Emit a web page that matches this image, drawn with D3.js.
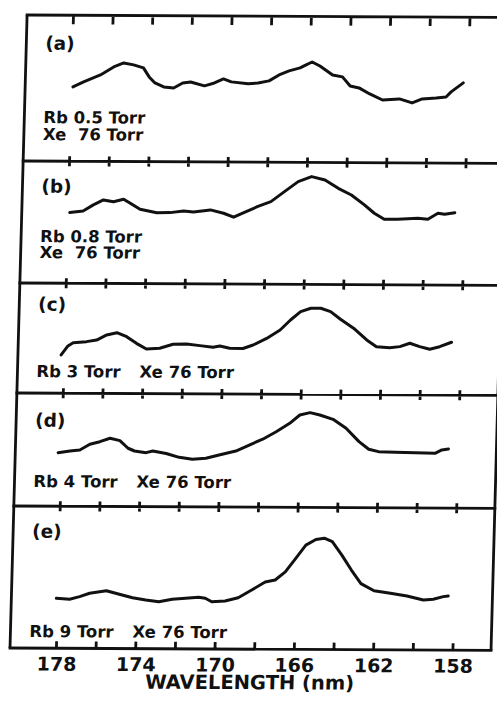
<!DOCTYPE html>
<html>
<head>
<meta charset="utf-8">
<script src="https://cdn.jsdelivr.net/npm/d3@7"></script>
<style>
  html, body { margin: 0; padding: 0; background: #fff; }
  svg { display: block; }
  text { font-family: "DejaVu Sans", sans-serif; font-weight: bold; fill: #111; }
</style>
</head>
<body>
<script>
// ---------------- data ----------------
const wavelengthTicks = [178, 176, 174, 172, 170, 168, 166, 164, 162, 160, 158];
const tickLabels = [178, 174, 170, 166, 162, 158];
const panelLetters = ["(a)", "(b)", "(c)", "(d)", "(e)"];
const rbLabels = ["Rb 0.5 Torr", "Rb 0.8 Torr", "Rb 3 Torr", "Rb 4 Torr", "Rb 9 Torr"];
const xeLabels = ["Xe  76 Torr", "Xe  76 Torr", "Xe 76 Torr", "Xe 76 Torr", "Xe 76 Torr"];
const axisTitle = "WAVELENGTH (nm)";

// (a) Rb 0.5 Torr
const waveA = [177.93,177.4,176.56,175.9,175.4,174.9,174.4,174.1,173.8,173.35,172.85,172.4,172.0,171.3,170.8,170.35,169.95,169.1,168.6,168.05,167.55,167.05,166.5,166.2,165.9,165.5,164.85,164.35,163.95,163.5,162.95,162.3,161.45,160.8,160.3,159.6,159.1,158.85,158.25];
const intA  = [5.09,5.44,5.92,6.47,6.75,6.62,6.42,5.80,5.39,5.12,5.05,5.40,5.47,5.21,5.41,5.69,5.49,5.36,5.42,5.57,5.98,6.26,6.47,6.68,6.88,6.61,6.0,5.87,5.25,5.12,4.71,4.30,4.38,4.11,4.39,4.46,4.53,4.88,5.50];
// (b) Rb 0.8 Torr
const waveB = [177.92,177.25,176.74,176.24,175.73,175.22,174.88,174.38,173.53,172.86,172.18,171.68,170.83,170.16,169.65,169.14,168.47,167.79,167.12,166.44,165.77,165.09,164.41,163.74,163.07,162.56,162.05,161.37,160.36,159.85,159.35,159.01,158.5];
const intB  = [5.79,5.93,6.43,6.84,6.70,6.91,6.58,6.09,5.82,5.83,5.97,5.89,6.07,5.80,5.48,5.86,6.35,6.77,7.60,8.42,8.84,8.57,7.89,7.35,6.54,5.86,5.38,5.38,5.47,5.39,5.89,5.81,5.94];
// (c) Rb 3 Torr
const waveC = [178.16,177.83,177.57,176.9,176.39,175.89,175.38,174.88,174.38,173.87,173.2,172.53,171.85,171.18,170.51,170.17,169.67,169.0,168.49,167.82,167.15,166.64,166.14,165.63,165.13,164.63,164.12,163.45,162.77,162.27,161.6,161.09,160.59,160.09,159.58,159.08,158.49];
const intC  = [3.48,4.30,4.60,4.70,4.85,5.32,5.53,5.17,4.57,4.06,4.13,4.50,4.54,4.39,4.25,4.37,4.16,4.15,4.47,5.07,5.85,6.76,7.52,7.84,7.84,7.54,6.85,6.04,4.98,4.37,4.29,4.39,4.70,4.40,4.16,4.40,4.81];
// (d) Rb 4 Torr
const waveD = [178.18,177.59,177.09,176.59,176.09,175.58,175.08,174.66,174.33,174.08,173.74,173.41,172.73,172.07,171.4,170.72,170.06,169.22,168.55,167.88,167.21,166.54,166.04,165.53,165.03,164.36,163.69,163.02,162.52,162.02,161.18,160.17,159.17,158.83,158.5];
const intD  = [4.74,4.89,4.99,5.50,5.73,6.04,5.83,5.16,4.92,4.86,4.78,4.93,4.71,4.38,4.21,4.31,4.61,4.96,5.50,6.02,6.69,7.44,8.18,8.39,8.19,7.81,7.03,5.85,5.18,4.97,4.92,4.89,4.85,5.15,5.24];
// (e) Rb 9 Torr
const waveE = [178.07,177.4,176.9,176.4,175.56,174.9,174.23,173.56,172.9,172.23,171.56,170.9,170.56,170.23,169.56,168.9,168.23,167.56,167.06,166.56,166.06,165.56,165.06,164.64,164.23,163.73,163.23,162.73,162.06,161.23,160.39,159.56,159.06,158.56,158.31];
const intE  = [3.52,3.45,3.64,3.88,4.07,3.82,3.58,3.43,3.31,3.49,3.56,3.64,3.57,3.33,3.38,3.62,4.17,4.74,4.88,5.46,6.40,7.35,7.75,7.84,7.60,6.66,5.61,4.66,4.16,3.99,3.80,3.53,3.58,3.77,3.82];

const waves = [waveA, waveB, waveC, waveD, waveE];
const intensities = [intA, intB, intC, intD, intE];

// ---------------- layout ----------------
const W = 497, H = 708;
const frameLeft = 10, frameRight = 491;
const edges = [15, 161, 283, 393, 506, 648];
const letterDy = [34.5, 31.5, 27.5, 33.5, 31.5];
const rbDyFromBottom = [38, 41, 16, 19, 11];
const xeDyFromBottom = [21, 25, 16, 19, 11];
const xeSameLine = [false, false, true, true, true];
const textX = 29;
const ink = "#111";

const svg = d3.select("body").append("svg").attr("width", W).attr("height", H);
// slight shear/tilt of the scanned original
const g = svg.append("g").attr("transform", "matrix(1,0.005,-0.027,1,17.5,-0.05)");

const x = d3.scaleLinear().domain([178, 158]).range([56.4, 452.9]);

// vertical sides of the frame
g.append("path")
  .attr("d", `M${frameLeft},${edges[0]}V${edges[5]}M${frameRight},${edges[0]}V${edges[5]}`)
  .attr("fill", "none").attr("stroke", ink).attr("stroke-width", 2.8);

// every horizontal border line drawn together with its tick marks in one path
edges.forEach((e, i) => {
  const up = i === 0 ? 0 : (i === edges.length - 1 ? 7 : 5);
  const down = i === 0 ? 9 : (i === edges.length - 1 ? 0 : 5);
  let d = `M${frameLeft - 1.4},${e}H${frameRight + 1.4}`;
  wavelengthTicks.forEach(t => { d += `M${x(t)},${e - up}V${e + down}`; });
  g.append("path").attr("d", d)
    .attr("fill", "none").attr("stroke", ink).attr("stroke-width", 2.8);
});

// bottom tick labels via axis
const labelSet = new Set(tickLabels);
const axis = d3.axisBottom(x).tickValues(wavelengthTicks).tickSize(0).tickPadding(9)
  .tickFormat(d => labelSet.has(d) ? String(d) : "");
const ag = g.append("g").attr("transform", `translate(0,${edges[5]})`).call(axis);
ag.select(".domain").remove();
ag.selectAll(".tick line").remove();
ag.selectAll("text").attr("font-family", "DejaVu Sans").attr("font-weight", "bold")
  .attr("font-size", 19).attr("fill", ink);

// axis title
g.append("text").attr("x", (frameLeft + frameRight) / 2).attr("y", 688)
  .attr("text-anchor", "middle").attr("font-size", 19.5).text(axisTitle);

// panels
const lineGen = d3.line().curve(d3.curveLinear);
for (let i = 0; i < 5; i++) {
  const top = edges[i], bottom = edges[i + 1];
  const y = d3.scaleLinear().domain([0, 10]).range([bottom, top]);
  const pts = waves[i].map((w, j) => [x(w), y(intensities[i][j])]);
  g.append("path").attr("d", lineGen(pts))
    .attr("fill", "none").attr("stroke", ink).attr("stroke-width", 3)
    .attr("stroke-linejoin", "round").attr("stroke-linecap", "round");

  g.append("text").attr("x", textX).attr("y", top + letterDy[i])
    .attr("font-size", 18.5).text(panelLetters[i]);
  g.append("text").attr("x", textX).attr("y", bottom - rbDyFromBottom[i])
    .attr("font-size", 16.5).text(rbLabels[i]);
  g.append("text").attr("x", xeSameLine[i] ? textX + 103 : textX)
    .attr("y", bottom - xeDyFromBottom[i])
    .attr("font-size", 16.5)
    .style("white-space", "pre").text(xeLabels[i]);
}
</script>
</body>
</html>
